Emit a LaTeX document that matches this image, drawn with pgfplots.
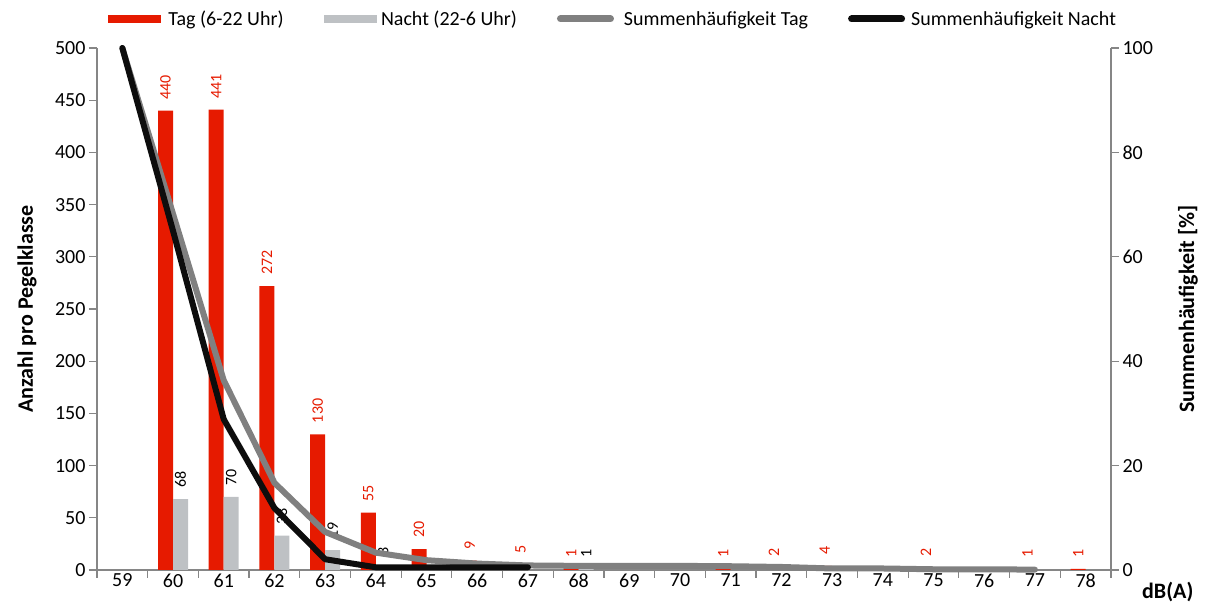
\documentclass[border=0pt]{standalone}
\usepackage{pgfplots}
\pgfplotsset{compat=1.18}
\usepackage{fontspec}
\setmainfont{Carlito}
\definecolor{tagred}{RGB}{230,26,0}
\definecolor{nachtgray}{RGB}{190,193,196}
\definecolor{sumgray}{RGB}{128,128,128}
\definecolor{sumblack}{RGB}{13,13,13}
\definecolor{axgray}{RGB}{134,134,134}
\begin{document}
\begin{tikzpicture}
\useasboundingbox (-97pt,-34pt) rectangle (1108pt,570pt);
\begin{axis}[
  scale only axis, width=1014pt, height=522pt,
  xmin=58.5, xmax=78.5, ymin=0, ymax=500,
  axis x line*=bottom, axis y line*=left,
  axis line style={draw=axgray, line width=1.2pt},
  ytick={0,50,...,500},
  xtick={58.5,59.5,...,78.5},
  xticklabels={},
  extra x ticks={59,60,...,78},
  extra x tick style={major tick length=0pt},
  tick style={draw=axgray, line width=1.2pt},
  major tick length=8pt,
  tick align=outside,
  tick label style={font=\fontsize{20}{24}\selectfont},
  /pgf/number format/assume math mode=true,
  ybar=0pt, bar width=15pt,
  ylabel={Anzahl pro Pegelklasse},
  ylabel style={font=\bfseries\fontsize{22}{26}\selectfont, at={(axis description cs:-0.069,0.5)}, anchor=center},
  xlabel={dB(A)},
  xlabel style={font=\bfseries\fontsize{22}{26}\selectfont, at={(axis description cs:1.056,-0.042)}, anchor=center},
  every node near coord/.append style={rotate=90, anchor=west, inner xsep=11pt, font=\fontsize{16}{18}\selectfont},
]
\addplot[fill=tagred, draw=none, nodes near coords, every node near coord/.append style={text=tagred}] coordinates {
(60,440) (61,441) (62,272) (63,130) (64,55) (65,20) (66,9) (67,5) (68,1) (71,1) (72,2) (73,4) (75,2) (77,1) (78,1)};
\addplot[fill=nachtgray, draw=none, nodes near coords, every node near coord/.append style={text=black}] coordinates {
(60,68) (61,70) (62,33) (63,19) (64,3) (68,1)};
\end{axis}
\begin{axis}[
  scale only axis, width=1014pt, height=522pt,
  xmin=58.5, xmax=78.5, ymin=0, ymax=100,
  axis x line=none, axis y line*=right,
  axis line style={draw=axgray, line width=1.2pt},
  ytick={0,20,...,100},
  tick style={draw=axgray, line width=1.2pt},
  major tick length=8pt,
  tick align=outside,
  tick label style={font=\fontsize{20}{24}\selectfont},
  /pgf/number format/assume math mode=true,
  clip=false,
  ylabel={Summenhäufigkeit [\%]},
  ylabel style={font=\bfseries\fontsize{22}{26}\selectfont, at={(axis description cs:1.076,0.5)}, anchor=center},
  legend columns=4,
  legend style={at={(axis description cs:0.5,1)}, anchor=center, yshift=29pt, xshift=9pt, draw=none, fill=none,
    font=\fontsize{20}{24}\selectfont, /tikz/every even column/.append style={column sep=38pt}},
]
\addlegendimage{legend image code/.code={\fill[tagred] (0pt,-3.5pt) rectangle (52pt,3.5pt); \path (58pt,0pt);}}
\addlegendentry{Tag (6-22 Uhr)}
\addlegendimage{legend image code/.code={\fill[nachtgray] (0pt,-3.5pt) rectangle (52pt,3.5pt); \path (55pt,0pt);}}
\addlegendentry{Nacht (22-6 Uhr)}
\addplot[sumgray, line width=6pt, line join=round, line cap=round, mark=none,
  legend image code/.code={\draw[sumgray, line width=7pt, line cap=round] (3.5pt,0pt) -- (53.5pt,0pt); \path (62pt,0pt);}] coordinates {
(59,100) (60,68.21) (61,36.34) (62,16.69) (63,7.30) (64,3.32) (65,1.88) (66,1.23) (67,0.87) (68,0.79) (69,0.79) (70,0.79) (71,0.72) (72,0.58) (73,0.29) (74,0.29) (75,0.14) (76,0.14) (77,0.07)};
\addlegendentry{Summenhäufigkeit Tag}
\addplot[sumblack, line width=6pt, line join=round, line cap=round, mark=none,
  legend image code/.code={\draw[sumblack, line width=7pt, line cap=round] (3.5pt,0pt) -- (53.5pt,0pt); \path (58pt,0pt);}] coordinates {
(59,100) (60,64.95) (61,28.87) (62,11.86) (63,2.06) (64,0.52) (65,0.52) (66,0.52) (67,0.52)};
\addlegendentry{Summenhäufigkeit Nacht}
\end{axis}
\end{tikzpicture}
\end{document}
